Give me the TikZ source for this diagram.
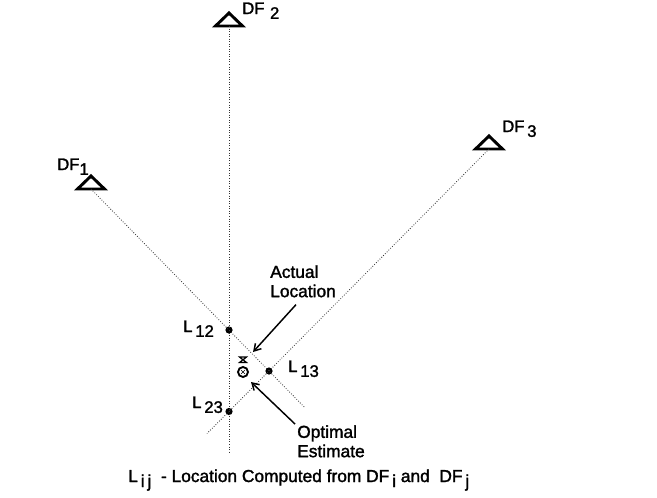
\documentclass[tikz,border=0pt]{standalone}
\usepackage{fontspec}
\setmainfont{Liberation Sans}[BoldFont={Liberation Sans},BoldFeatures={FakeBold=1.6}]
\usepackage{tikz}
\usetikzlibrary{arrows.meta,positioning,calc}
\definecolor{dfInk}{HTML}{000000}
\definecolor{dfDot}{HTML}{333333}
\newcommand{\lowidx}[1]{\raisebox{-0.55ex}{#1}}
\tikzset{
  % DF site (open triangle, base centre at the origin)
  dfsite/.pic={\draw[line width=2.2pt,line join=miter,dfInk]
    (-13.5,0) -- (0,-13) -- (13.5,0) -- cycle;},
  % Bearing line from a DF site
  bearing/.style={dfDot,line width=0.6pt,dash pattern=on 0.6pt off 1.3pt},
  % Computed fix
  fixdot/.style={circle,fill=dfInk,inner sep=0pt,minimum size=5.4pt},
  % Labels
  lbl/.style={font=\fontsize{12.5}{14}\selectfont\bfseries,text=dfInk,
    inner sep=0pt,anchor=base west},
  note/.style={font=\fontsize{13}{14.5}\selectfont\bfseries,text=dfInk,
    inner sep=0pt,align=left,anchor=north west},
  % Pointer arrows
  pointer/.style={-{Straight Barb[length=5pt,width=6pt]},
    line width=1.1pt,color=dfInk},
}
\begin{document}
\begin{tikzpicture}[x=0.75pt,y=-0.75pt]
  \path[use as bounding box,fill=white] (0,0) rectangle (657,497);

  % DF sites
  \coordinate (df1) at (91,189);
  \coordinate (df2) at (229,26);
  \coordinate (df3) at (489,149);
  \pic at (df1) {dfsite};
  \pic at (df2) {dfsite};
  \pic at (df3) {dfsite};
  \node[lbl] (df1lbl) at (57,170) {DF\lowidx{1}};
  \node[lbl] (df2lbl) at (242,14) {DF\,\,\lowidx{2}};
  \node[lbl] (df3lbl) at (502,132) {DF\,\lowidx{3}};

  % Computed locations
  \node[fixdot] (l12) at (229,330) {};
  \node[fixdot] (l13) at (269,371) {};
  \node[fixdot] (l23) at (229,411.5) {};

  % Bearing lines
  \draw[bearing] (df1) -- ($(df1)!1.202!(l13)$);
  \draw[bearing] (df2) -- ($(df2)!1.11!(l23)$);
  \draw[bearing] (df3) -- ($(df3)!1.282!(l13)$);

  \node[lbl] (l12lbl) at (183,332) {L\,\lowidx{12}};
  \node[lbl] (l13lbl) at (288,372) {L\,\lowidx{13}};
  \node[lbl] (l23lbl) at (192,408) {L\,\lowidx{23}};

  % Optimal estimate symbol
  \coordinate (est) at (243,370);
  \draw[line width=0.9pt,dfInk] ($(est)+(-3.5,-13)$) -- ($(est)+(3.5,-13)$)
    -- ($(est)+(-3.5,-7.5)$) -- ($(est)+(3.5,-7.5)$) -- cycle;
  \draw[line width=1.4pt,dfInk] ($(est)+(0,2)$) circle[radius=5];
  \draw[line width=0.5pt,dfInk] ($(est)+(-1.8,0.2)$) -- ($(est)+(1.8,3.8)$)
    ($(est)+(-1.8,3.8)$) -- ($(est)+(1.8,0.2)$);

  % Notes with pointers
  \coordinate (actual) at (253,352);
  \coordinate (estpt) at (251,382);
  \node[note] (actlbl) at (270,265) {Actual\\Location};
  \node[note] (optlbl) at (297,425) {Optimal\\Estimate};
  \draw[pointer] ($(actlbl.south)+(-7,7)$) -- (actual);
  \draw[pointer] ($(optlbl.north west)+(-2,-1)$) -- (estpt);

  % Caption
  \node[lbl,font=\fontsize{13}{14}\selectfont\bfseries] (caption) at (128,482)
    {L\,\lowidx{i\,j}\ \ - Location Computed from DF\,\lowidx{i}\ and\ \ DF\,\lowidx{j}};
\end{tikzpicture}
\end{document}
